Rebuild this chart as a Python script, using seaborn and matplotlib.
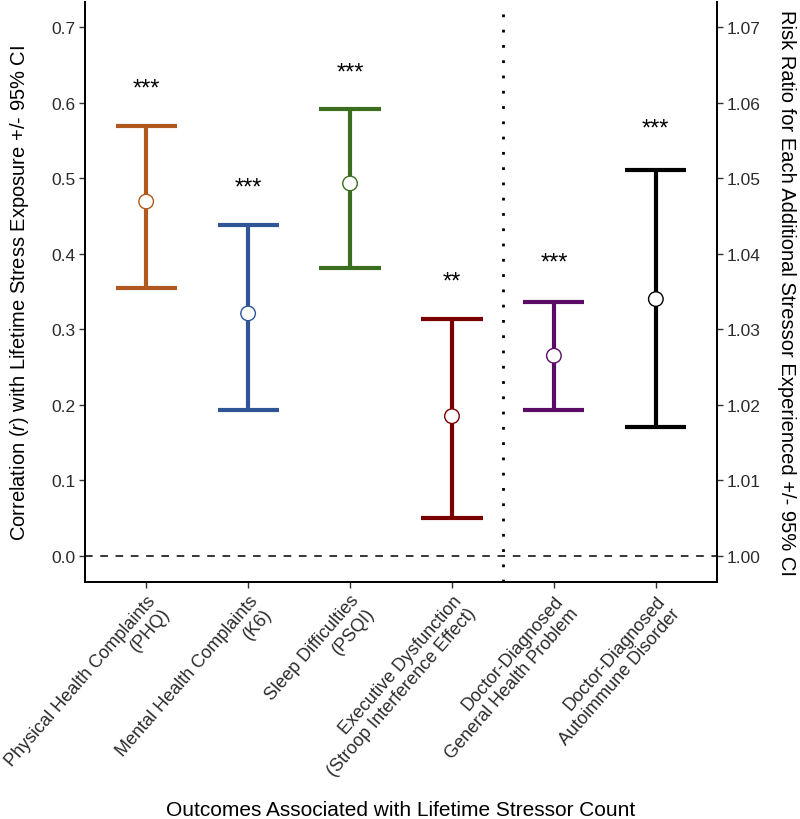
import numpy as np
import pandas as pd
import matplotlib
matplotlib.use("Agg")
import matplotlib.pyplot as plt
import seaborn as sns

# ---------------------------------------------------------------------
# data
# ---------------------------------------------------------------------
CATEGORIES = [
    "Physical Health Complaints\n(PHQ)",
    "Mental Health Complaints\n(K6)",
    "Sleep Difficulties\n(PSQI)",
    "Executive Dysfunction\n(Stroop Interference Effect)",
    "Doctor-Diagnosed\nGeneral Health Problem",
    "Doctor-Diagnosed\nAutoimmune Disorder",
]
COLORS = ["#B0591E", "#2F5597", "#3B6E1E", "#7A0000", "#5B0A66", "#000000"]

# correlations (left axis)
CORR_EST = [0.469, 0.321, 0.493, 0.185]
CORR_LO = [0.354, 0.193, 0.381, 0.050]
CORR_HI = [0.569, 0.438, 0.591, 0.314]
CORR_STARS = ["***", "***", "***", "**"]
CORR_STAR_Y = [0.624, 0.494, 0.645, 0.369]

# risk ratios (right axis)
RR_EST = [1.0265, 1.0340]
RR_LO = [1.0193, 1.0171]
RR_HI = [1.0336, 1.0511]
RR_STARS = ["***", "***"]
RR_STAR_Y = [1.0394, 1.0572]

LEFT_TICKS = [0.0, 0.1, 0.2, 0.3, 0.4, 0.5, 0.6, 0.7]
RIGHT_TICKS = [1.00, 1.01, 1.02, 1.03, 1.04, 1.05, 1.06, 1.07]
YLIM_LEFT = (-0.0344, 0.733)

# ---------------------------------------------------------------------
# style
# ---------------------------------------------------------------------
sns.set_theme(style="ticks")
plt.rcParams["font.family"] = ["Liberation Sans", "DejaVu Sans"]
plt.rcParams["mathtext.fontset"] = "custom"
plt.rcParams["mathtext.rm"] = "Liberation Sans"
plt.rcParams["mathtext.it"] = "Liberation Sans:italic"

n_corr = len(CORR_EST)
corr_df = pd.DataFrame({
    "pos": np.arange(n_corr),
    "est": CORR_EST, "lo": CORR_LO, "hi": CORR_HI,
    "stars": CORR_STARS, "star_y": CORR_STAR_Y,
    "color": COLORS[:n_corr],
})
rr_df = pd.DataFrame({
    "pos": np.arange(n_corr, n_corr + len(RR_EST)),
    "est": RR_EST, "lo": RR_LO, "hi": RR_HI,
    "stars": RR_STARS, "star_y": RR_STAR_Y,
    "color": COLORS[n_corr:],
})

fig = plt.figure(figsize=(8, 8.2), dpi=100)
ax = fig.add_axes([0.10625, 0.289, 0.79, 0.7073])
ax2 = ax.twinx()

CAP_HALF = 0.3
LW = 3.0


def draw_group(a, d):
    for _, r in d.iterrows():
        a.vlines(r["pos"], r["lo"], r["hi"], color=r["color"], lw=LW, zorder=2)
        a.hlines([r["lo"], r["hi"]], r["pos"] - CAP_HALF, r["pos"] + CAP_HALF,
                 color=r["color"], lw=LW, zorder=2)
        a.annotate(r["stars"], (r["pos"], r["star_y"]), xytext=(0, -7.5),
                   textcoords="offset points", ha="center", va="baseline",
                   fontsize=17, color="black")
    sns.scatterplot(data=d, x="pos", y="est", hue="color", palette=list(d["color"]),
                    ax=a, s=110, marker="o", facecolor="white", linewidth=1.0,
                    legend=False, zorder=3)
    # white faces with coloured edges
    coll = a.collections[-1]
    coll.set_facecolor("white")
    coll.set_edgecolor(list(d["color"]))


draw_group(ax, corr_df)
draw_group(ax2, rr_df)

ax.axhline(0, color="black", lw=1.1, ls=(0, (5, 5)), zorder=1)
ax.axvline(n_corr - 0.5, color="black", lw=2.0, ls=(0, (1, 4.5)), zorder=1)

ax.set_xlim(-0.6, len(CATEGORIES) - 0.4)
ax.set_ylim(*YLIM_LEFT)
ax2.set_ylim(1 + YLIM_LEFT[0] / 10, 1 + YLIM_LEFT[1] / 10)

ax.set_xticks(np.arange(len(CATEGORIES)))
ax.set_xticklabels(CATEGORIES, rotation=49, ha="right", va="top",
                   rotation_mode="anchor", fontsize=13, color="#2b2b2b")
ax.set_yticks(LEFT_TICKS)
ax.set_yticklabels([f"{t:.1f}" for t in LEFT_TICKS], fontsize=12.5, color="#2b2b2b")
ax2.set_yticks(RIGHT_TICKS)
ax2.set_yticklabels([f"{t:.2f}" for t in RIGHT_TICKS], fontsize=12.5, color="#2b2b2b")

for a in (ax, ax2):
    a.tick_params(length=4, width=1.0, color="#333333", pad=3)
    a.spines["top"].set_visible(False)
    for s in ("left", "right", "bottom"):
        a.spines[s].set_linewidth(1.3)
        a.spines[s].set_color("black")
    a.set_xlabel("")
    a.set_ylabel("")

ax.set_ylabel(r"Correlation ($\mathit{r}$) with Lifetime Stress Exposure +/- 95% CI",
              fontsize=14.5, color="black")
ax.yaxis.set_label_coords(-0.085, 0.5)
ax2.set_ylabel("Risk Ratio for Each Additional Stressor Experienced +/- 95% CI",
               fontsize=14.5, color="black", rotation=-90, va="bottom")
ax2.yaxis.set_label_coords(1.095, 0.5)
ax.set_xlabel("Outcomes Associated with Lifetime Stressor Count",
              fontsize=15, color="black")
ax.xaxis.set_label_coords(0.5, -0.376)

fig.savefig("out.png", dpi=100)
